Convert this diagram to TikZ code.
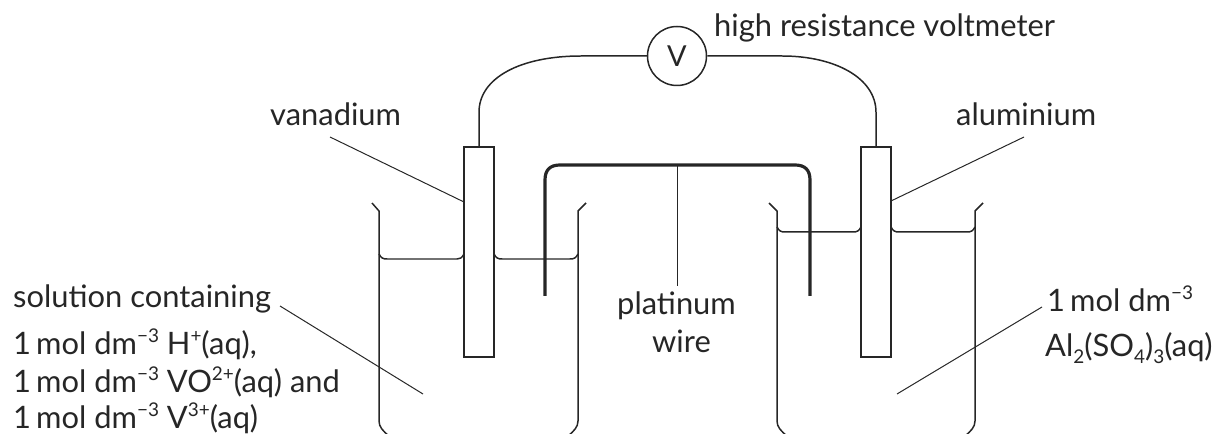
\documentclass[tikz,border=0pt]{standalone}
\usepackage{fontspec}
\setmainfont{Lato}
\newcommand{\upsc}[1]{\raisebox{0.42em}{\fontsize{19}{19}\selectfont #1}}
\newcommand{\dnsc}[1]{\raisebox{-0.2em}{\fontsize{19}{19}\selectfont #1}}
\newcommand{\conc}{1\,mol dm\upsc{−3}}
\tikzset{
  txt/.style={inner sep=0pt,font=\fontsize{31}{31}\selectfont,text=black!85,anchor=base west},
  leader/.style={line width=1pt,black!85},
  vessel/.style={line width=1.5pt,line join=round,black!85},
  electrode/.style={draw=black!85,line width=1.5pt,minimum width=30bp,minimum height=210bp,inner sep=0pt},
  heavy/.style={line width=3.2pt,black!85}
}
\begin{document}
\begin{tikzpicture}[x=1bp,y=-1bp]
  \useasboundingbox (0,0) rectangle (1213,434);
  % beakers
  \draw[vessel] (372,203) -- (379,211) -- (379,421) .. controls (379,427) and (383,431) .. (389,436);
  \draw[vessel] (586,203) -- (578,211) -- (578,421) .. controls (578,427) and (574,431) .. (568,436);
  \draw[vessel] (769,203) -- (777,211) -- (777,421) .. controls (777,427) and (781,431) .. (787,436);
  \draw[vessel] (983,203) -- (975,211) -- (975,421) .. controls (975,427) and (971,431) .. (965,436);
  % electrodes and wire
  \node[electrode] (vanadium) at (479,252) {};
  \node[electrode] (alum) at (876,252) {};
  \node[circle,draw=black!85,line width=1.5pt,minimum size=59bp,inner sep=0pt,text=black!85,font=\fontsize{29}{29}\selectfont] (V) at (677,56) {V};
  \draw[vessel] (vanadium.north) -- ++(0,-34) .. controls (479,78) and (520,56) .. (581,56) -- (V.west);
  \draw[vessel] (alum.north) -- ++(0,-34) .. controls (876,78) and (835,56) .. (782,56) -- (V.east);
  \draw[heavy] (545,296) -- (545,180) .. controls (545,170) and (550,165) .. (560,165) -- (795,165) .. controls (805,165) and (810,170) .. (810,180) -- (810,296);
  % liquid
  \draw[vessel] (379,254) .. controls (381,258) and (383,259) .. (387,259) -- (457,259) .. controls (460,259) and (462,258) .. (464,254);
  \draw[vessel] (494,254) .. controls (496,258) and (498,259) .. (502,259) -- (570,259) .. controls (574,259) and (576,258) .. (578,254);
  \draw[vessel] (777,227) .. controls (779,231) and (781,232) .. (785,232) -- (853,232) .. controls (857,232) and (859,231) .. (861,227);
  \draw[vessel] (891,227) .. controls (893,231) and (895,232) .. (899,232) -- (967,232) .. controls (971,232) and (973,231) .. (975,227);
  % labels
  \node[txt] (hrv) at (714,37) {high resistance voltmeter};
  \node[txt] (van) at (270,126) {vanadium};
  \node[txt] (alu) at (956,126) {aluminium};
  \node[txt] (sol) at (13,308) {solution containing};
  \node[txt] (la) at (13,355) {\conc{} H\upsc{+}(aq),};
  \node[txt] (lb) at (13,393) {\conc{} VO\upsc{2+}(aq) and};
  \node[txt] (lc) at (13,429) {\conc{} V\upsc{3+}(aq)};
  \node[txt] (pa) at (617,315) {platinum};
  \node[txt] (pb) at (652,353) {wire};
  \node[txt] (ra) at (1047,312) {\conc};
  \node[txt] (rb) at (1045,357) {Al\dnsc{2}(SO\dnsc{4})\dnsc{3}(aq)};
  % leaders
  \coordinate (c1) at (330,137);
  \coordinate (c2) at (464,202);
  \draw[leader] (c1) -- (c2);
  \coordinate (c3) at (1024,137);
  \coordinate (c4) at (891,201);
  \draw[leader] (c3) -- (c4);
  \coordinate (c5) at (677,165);
  \coordinate (c6) at (677,286);
  \draw[leader] (c5) -- (c6);
  \coordinate (c7) at (280,306);
  \coordinate (c8) at (423,394);
  \draw[leader] (c7) -- (c8);
  \coordinate (c9) at (1042,307);
  \coordinate (c10) at (897,394);
  \draw[leader] (c9) -- (c10);
\end{tikzpicture}
\end{document}
